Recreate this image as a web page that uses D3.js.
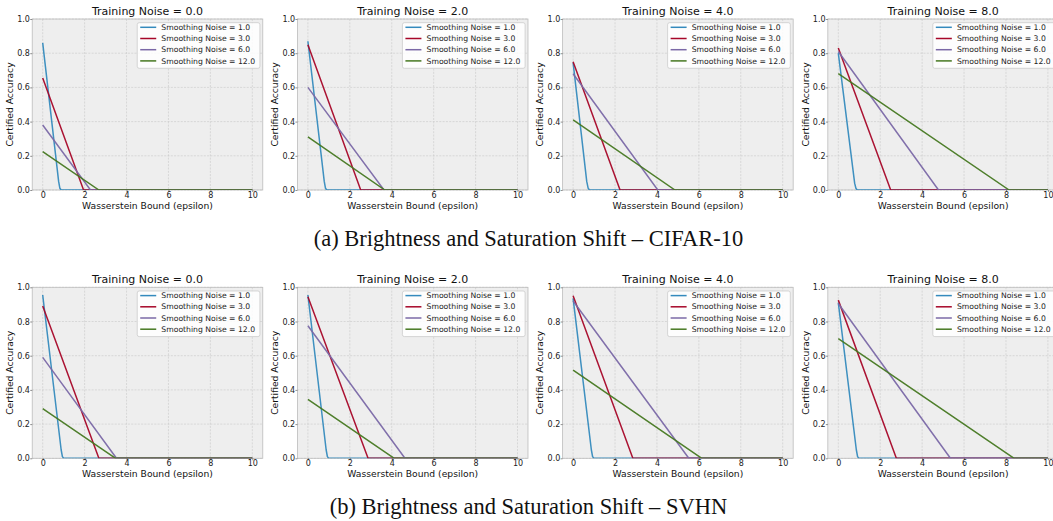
<!DOCTYPE html>
<html>
<head>
<meta charset="utf-8">
<script src="https://cdn.jsdelivr.net/npm/d3@7"></script>
<style>
  html, body { margin: 0; padding: 0; background: #fff; }
  svg { display: block; }
  text { font-family: "DejaVu Sans", sans-serif; }
</style>
</head>
<body>
<svg id="fig" width="1053" height="521"></svg>
<script>
// Axis ticks and labels
const epsilonTicks = [0, 2, 4, 6, 8, 10];
const accuracyTicks = [0, 0.2, 0.4, 0.6, 0.8, 1.0];
const trainingNoise = ["0.0", "2.0", "4.0", "8.0"];
const smoothingNoise = ["1.0", "3.0", "6.0", "12.0"];
const captions = [
  "(a) Brightness and Saturation Shift \u2013 CIFAR-10",
  "(b) Brightness and Saturation Shift \u2013 SVHN"
];

// Certified accuracy vs. Wasserstein bound, one entry per training noise (0, 2, 4, 8)
// CIFAR-10
const cifarSmooth1 = [
  [[0, 0.86], [0.76, 0.05], [0.82, 0.01], [0.88, 0], [10, 0]],
  [[0, 0.87], [0.78, 0.05], [0.84, 0.01], [0.9, 0], [10, 0]],
  [[0, 0.745], [0.65, 0.05], [0.72, 0.01], [0.78, 0], [10, 0]],
  [[0, 0.80], [0.78, 0.04], [0.84, 0.01], [0.9, 0], [10, 0]]
];
const cifarSmooth3 = [
  [[0, 0.655], [1.95, 0], [10, 0]],
  [[0, 0.85], [2.52, 0], [10, 0]],
  [[0, 0.75], [2.24, 0], [10, 0]],
  [[0, 0.83], [2.5, 0], [10, 0]]
];
const cifarSmooth6 = [
  [[0, 0.38], [2.28, 0], [10, 0]],
  [[0, 0.60], [3.63, 0], [10, 0]],
  [[0, 0.68], [4.04, 0], [10, 0]],
  [[0, 0.81], [4.78, 0], [10, 0]]
];
const cifarSmooth12 = [
  [[0, 0.225], [2.68, 0], [10, 0]],
  [[0, 0.31], [3.67, 0], [10, 0]],
  [[0, 0.41], [4.86, 0], [10, 0]],
  [[0, 0.68], [8.15, 0], [10, 0]]
];
// SVHN
const svhnSmooth1 = [
  [[0, 0.955], [0.88, 0.05], [0.94, 0.01], [1.0, 0], [10, 0]],
  [[0, 0.955], [0.87, 0.05], [0.93, 0.01], [0.99, 0], [10, 0]],
  [[0, 0.935], [0.87, 0.05], [0.93, 0.01], [0.99, 0], [10, 0]],
  [[0, 0.91], [0.86, 0.05], [0.92, 0.01], [0.98, 0], [10, 0]]
];
const svhnSmooth3 = [
  [[0, 0.89], [2.68, 0], [10, 0]],
  [[0, 0.945], [2.87, 0], [10, 0]],
  [[0, 0.95], [2.85, 0], [10, 0]],
  [[0, 0.925], [2.77, 0], [10, 0]]
];
const svhnSmooth6 = [
  [[0, 0.59], [3.52, 0], [10, 0]],
  [[0, 0.775], [4.63, 0], [10, 0]],
  [[0, 0.92], [5.52, 0], [10, 0]],
  [[0, 0.905], [5.35, 0], [10, 0]]
];
const svhnSmooth12 = [
  [[0, 0.29], [3.48, 0], [10, 0]],
  [[0, 0.345], [4.12, 0], [10, 0]],
  [[0, 0.515], [6.14, 0], [10, 0]],
  [[0, 0.70], [8.39, 0], [10, 0]]
];

const colors = ["#348ABD", "#A60628", "#7A68A6", "#467821"];
const rows = [
  [cifarSmooth1, cifarSmooth3, cifarSmooth6, cifarSmooth12],
  [svhnSmooth1, svhnSmooth3, svhnSmooth6, svhnSmooth12]
];

const svg = d3.select("#fig");

// panel geometry
const unit = 20.96;            // pixels per epsilon unit
const colStep = 265.2;
const rowStep = 268.3;
const frameW = 11 * unit;
const frameTop0 = 19, frameH = 171;

rows.forEach((rowSeries, r) => {
  const top = frameTop0 + r * rowStep;
  const bottom = top + frameH;

  trainingNoise.forEach((tn, c) => {
    const left = 42.7 + c * colStep - 0.5 * unit;
    const x = d3.scaleLinear().domain([-0.5, 10.5]).range([left, left + frameW]);
    const y = d3.scaleLinear().domain([0, 1]).range([bottom, top]);
    const g = svg.append("g");
    const clipId = `clip-${r}-${c}`;

    g.append("clipPath").attr("id", clipId)
      .append("rect").attr("x", left).attr("y", top).attr("width", frameW).attr("height", frameH);

    // background
    g.append("rect").attr("x", left).attr("y", top).attr("width", frameW).attr("height", frameH)
      .attr("fill", "#eeeeee");

    // grid
    g.append("g").selectAll("line").data(epsilonTicks).join("line")
      .attr("x1", d => x(d)).attr("x2", d => x(d)).attr("y1", top).attr("y2", bottom)
      .attr("stroke", "#c8c8c8").attr("stroke-width", 0.6).attr("stroke-dasharray", "2,1.3");
    g.append("g").selectAll("line").data(accuracyTicks).join("line")
      .attr("x1", left).attr("x2", left + frameW).attr("y1", d => y(d)).attr("y2", d => y(d))
      .attr("stroke", "#c8c8c8").attr("stroke-width", 0.6).attr("stroke-dasharray", "2,1.3");

    // frame
    g.append("rect").attr("x", left).attr("y", top).attr("width", frameW).attr("height", frameH)
      .attr("fill", "none").attr("stroke", "#bcbcbc").attr("stroke-width", 0.8);

    // curves (clipped to the plot area, so the zero segments show half their width)
    const line = d3.line().x(d => x(d[0])).y(d => y(d[1]));
    const lg = g.append("g").attr("clip-path", `url(#${clipId})`);
    rowSeries.forEach((series, k) => {
      lg.append("path").datum(series[c]).attr("d", line)
        .attr("fill", "none").attr("stroke", colors[k]).attr("stroke-width", 1.5)
        .attr("stroke-linejoin", "round").attr("stroke-opacity", 0.95);
    });

    // axes
    const xa = g.append("g").attr("transform", `translate(0,${bottom})`)
      .call(d3.axisBottom(x).tickValues(epsilonTicks).tickSize(2).tickPadding(0).tickFormat(d3.format("d")));
    const ya = g.append("g").attr("transform", `translate(${left},0)`)
      .call(d3.axisLeft(y).tickValues(accuracyTicks).tickSize(2).tickPadding(0.3).tickFormat(d3.format(".1f")));
    [xa, ya].forEach(a => {
      a.select(".domain").remove();
      a.selectAll(".tick line").attr("stroke", "#444").attr("stroke-width", 0.6);
      a.selectAll(".tick text").attr("fill", "#222").style("font-size", "8px")
        .style("font-family", "'DejaVu Sans', sans-serif");
    });

    // titles and labels
    const cx = left + frameW / 2;
    g.append("text").attr("x", cx).attr("y", top - 4.5).attr("text-anchor", "middle")
      .style("font-size", "11px").attr("fill", "#111").text(`Training Noise = ${tn}`);
    g.append("text").attr("x", cx).attr("y", bottom + 19).attr("text-anchor", "middle")
      .style("font-size", "9.2px").attr("fill", "#111").text("Wasserstein Bound (epsilon)");
    g.append("text").attr("transform", `translate(${left - 19.2},${(top + bottom) / 2}) rotate(-90)`)
      .attr("text-anchor", "middle").style("font-size", "9.2px").attr("fill", "#111")
      .text("Certified Accuracy");

    // legend
    const lgd = g.append("g").attr("transform", `translate(${left},${top})`);
    lgd.append("rect").attr("x", 105).attr("y", 3.7).attr("width", 122.7).attr("height", 45.6)
      .attr("rx", 2).attr("fill", "#ffffff").attr("fill-opacity", 0.85)
      .attr("stroke", "#cccccc").attr("stroke-width", 0.8);
    smoothingNoise.forEach((sn, k) => {
      const yy = 8.3 + k * 11.2;
      lgd.append("line").attr("x1", 108).attr("x2", 124).attr("y1", yy).attr("y2", yy)
        .attr("stroke", colors[k]).attr("stroke-width", 1.5);
      lgd.append("text").attr("x", 129.1).attr("y", yy).attr("dy", "0.35em")
        .style("font-size", "7.7px").attr("fill", "#222").text(`Smoothing Noise = ${sn}`);
    });
  });
});

// sub-figure captions
[246, 514].forEach((by, i) => {
  svg.append("text").attr("x", 528.5).attr("y", by).attr("text-anchor", "middle")
    .style("font-family", "'Liberation Serif', 'Times New Roman', serif")
    .style("font-size", "22.5px").attr("fill", "#111").text(captions[i]);
});
</script>
</body>
</html>
